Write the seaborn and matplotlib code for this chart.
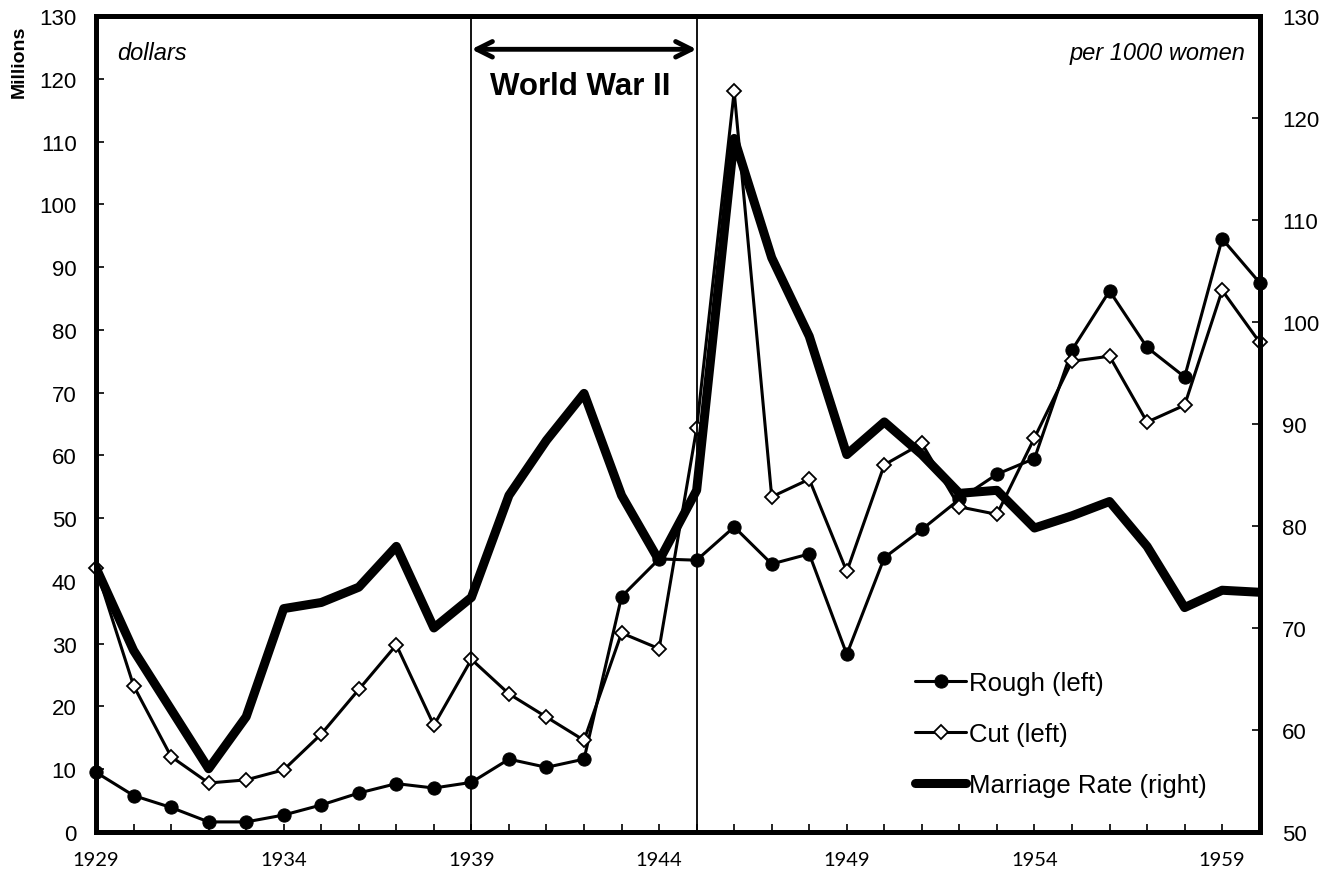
import pandas as pd
import matplotlib.pyplot as plt
import seaborn as sns

# values
years = list(range(1929, 1961))
rough = [9.5, 5.8, 3.9, 1.6, 1.6, 2.7, 4.3, 6.2, 7.7, 7.0, 7.9, 11.6, 10.3, 11.6,
         37.5, 43.5, 43.3, 48.6, 42.7, 44.3, 28.3, 43.7, 48.2, 53.0, 57.0, 59.5,
         76.8, 86.2, 77.2, 72.5, 94.5, 87.5]
cut = [42.0, 23.3, 12.0, 7.8, 8.3, 9.9, 15.6, 22.7, 29.8, 17.0, 27.5, 22.0, 18.3, 14.6,
       31.7, 29.2, 64.3, 118.0, 53.4, 56.2, 41.5, 58.5, 61.9, 51.8, 50.6, 62.8,
       75.0, 75.8, 65.3, 68.0, 86.3, 78.0]
marriage = [75.9, 67.8, 62.0, 56.2, 61.3, 71.9, 72.5, 74.0, 78.0, 70.0, 73.0, 83.0,
            88.4, 93.0, 83.0, 76.6, 83.5, 118.0, 106.3, 98.6, 87.0, 90.2, 87.0, 83.2,
            83.5, 79.8, 81.0, 82.4, 78.0, 72.0, 73.7, 73.5]
major_years = list(range(1929, 1961, 5))
left_ticks = list(range(0, 131, 10))
right_ticks = list(range(50, 131, 10))
war_start, war_end = 1939, 1945

df = pd.DataFrame({'year': years, 'rough': rough, 'cut': cut, 'marriage': marriage})

sns.set_style("white")
plt.rcParams['font.family'] = ['Liberation Sans', 'DejaVu Sans']
plt.rcParams.update({'text.color': 'black', 'axes.labelcolor': 'black',
                     'xtick.color': 'black', 'ytick.color': 'black'})

fig = plt.figure(figsize=(13.34, 8.78), dpi=100)
ax = fig.add_axes([0.072, 0.0513, 0.8723, 0.9293])
ax2 = ax.twinx()

sns.lineplot(data=df, x='year', y='rough', ax=ax, color='black', lw=2.2,
             marker='o', markersize=9.5, markeredgecolor='black', label='Rough (left)',
             clip_on=False)
sns.lineplot(data=df, x='year', y='cut', ax=ax, color='black', lw=2.2,
             marker='D', markersize=7.5, markerfacecolor='white',
             markeredgecolor='black', markeredgewidth=1.3, label='Cut (left)',
             clip_on=False)
sns.lineplot(data=df, x='year', y='marriage', ax=ax2, color='black', lw=6.5,
             label='Marriage Rate (right)')

for a in (ax, ax2):
    if a.get_legend() is not None:
        a.get_legend().remove()

# axes limits and ticks
ax.set_xlim(1929, 1960)
ax.set_ylim(0, 130)
ax2.set_ylim(50, 130)
ax.set_xticks(major_years)
ax.set_xticks(years, minor=True)
ax.set_yticks(left_ticks)
ax2.set_yticks(right_ticks)
ax.set_xlabel('')
ax2.set_ylabel('')

ax.tick_params(axis='y', direction='in', length=6, width=1.2, labelsize=16, pad=14, left=True)
ax.tick_params(axis='x', which='both', direction='in', length=6, width=1.2, pad=14, bottom=True)
ax2.tick_params(axis='y', direction='in', length=6, width=1.2, labelsize=16, pad=16, right=True)
for lab in ax.get_xticklabels():
    lab.set_fontfamily(['Lato', 'DejaVu Sans'])
    lab.set_fontsize(14.5)

for a in (ax, ax2):
    for s in a.spines.values():
        s.set_linewidth(3.5)
        s.set_color('black')

ax.set_ylabel('Millions', fontsize=14, fontweight='bold')
ax.yaxis.set_label_coords(-0.059, 0.945)

# war markers
ax.axvline(war_start, color='black', lw=1.3)
ax.axvline(war_end, color='black', lw=1.3)
ax.annotate('', xy=(war_end, 124.7), xytext=(war_start, 124.7),
            arrowprops=dict(arrowstyle='<->', lw=3.5, color='black',
                            mutation_scale=28, shrinkA=0, shrinkB=0))
ax.text(1941.9, 118.8, 'World War II', fontsize=22.5, fontweight='bold',
        ha='center', va='center')

ax.text(0.018, 0.955, 'dollars', transform=ax.transAxes, fontsize=17, style='italic',
        ha='left', va='center')
ax.text(0.988, 0.955, 'per 1000 women', transform=ax.transAxes, fontsize=17,
        style='italic', ha='right', va='center')

h1, l1 = ax.get_legend_handles_labels()
h2, l2 = ax2.get_legend_handles_labels()
leg = ax2.legend(h1 + h2, l1 + l2, loc='upper left', bbox_to_anchor=(915 / 1334, 1 - 672 / 878),
                 bbox_transform=fig.transFigure, frameon=False, fontsize=18.5,
                 handlelength=2.0, handletextpad=0.1, labelspacing=1.05,
                 borderpad=0, borderaxespad=0)

fig.savefig('out.png', dpi=100)
